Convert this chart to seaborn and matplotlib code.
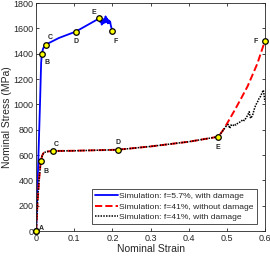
import numpy as np
import pandas as pd
import seaborn as sns
import matplotlib
matplotlib.use("Agg")
import matplotlib.pyplot as plt

# Simulation f=5.7%, with damage
strain_f57 = [0.0, 0.005, 0.010, 0.013, 0.015, 0.018, 0.022, 0.025, 0.060, 0.104,
              0.166, 0.168, 0.170, 0.172, 0.174, 0.176, 0.178, 0.180, 0.182, 0.184,
              0.186, 0.188, 0.190, 0.192, 0.194, 0.196, 0.198, 0.200]
stress_f57 = [0, 500, 1000, 1330, 1400, 1440, 1462, 1472, 1525, 1575,
              1680, 1650, 1668, 1630, 1662, 1640, 1675, 1645, 1695, 1650,
              1678, 1640, 1665, 1642, 1655, 1620, 1600, 1577]

# Simulation f=41%, shared part up to point E
strain_f41 = [0.0, 0.004, 0.008, 0.012, 0.016, 0.020, 0.026, 0.032, 0.043, 0.10,
              0.214, 0.30, 0.40, 0.478]
stress_f41 = [0, 250, 420, 550, 598, 618, 626, 629, 632, 634,
              642, 668, 705, 745]

# after E: without damage
strain_nodmg = [0.478, 0.49, 0.50, 0.52, 0.54, 0.555, 0.58, 0.60]
stress_nodmg = [745, 795, 845, 950, 1060, 1145, 1320, 1500]

# after E: with damage
strain_dmg = [0.478, 0.488, 0.497, 0.504, 0.508, 0.511, 0.516, 0.520, 0.524, 0.530,
              0.537, 0.542, 0.546, 0.550, 0.555, 0.559, 0.561, 0.563, 0.568, 0.572,
              0.576, 0.580, 0.585, 0.588, 0.592, 0.596, 0.598, 0.600]
stress_dmg = [745, 785, 823, 842, 811, 837, 830, 845, 837, 855,
              863, 880, 872, 890, 915, 942, 905, 890, 916, 960,
              995, 1015, 1048, 1060, 1087, 1113, 1074, 1021]

# labelled points
pts_f57_x = [0.0, 0.015, 0.025, 0.104, 0.166, 0.200]
pts_f57_y = [0, 1400, 1472, 1575, 1680, 1577]
pts_f41_x = [0.0, 0.012, 0.043, 0.214, 0.478, 0.600]
pts_f41_y = [0, 550, 632, 642, 745, 1500]
pt_letters = ["A", "B", "C", "D", "E", "F"]

sns.set_style("ticks")
plt.rcParams['font.family'] = ['Liberation Sans', 'DejaVu Sans']

fig = plt.figure(figsize=(2.7, 2.57), dpi=100)
ax = fig.add_axes([0.134, 0.101, 0.847, 0.887])

f41_full = pd.DataFrame({
    "strain": strain_f41 + strain_nodmg[1:],
    "stress": stress_f41 + stress_nodmg[1:],
})
f41_dmg = pd.DataFrame({
    "strain": strain_f41 + strain_dmg[1:],
    "stress": stress_f41 + stress_dmg[1:],
})
f57 = pd.DataFrame({"strain": strain_f57, "stress": stress_f57})

sns.lineplot(data=f57, x="strain", y="stress", sort=False, color="#0000ff", lw=1.3,
             label="Simulation: f=5.7%, with damage", ax=ax)
sns.lineplot(data=f41_full, x="strain", y="stress", sort=False, color="#ff0000", lw=1.4,
             linestyle="--", label="Simulation: f=41%, without damage", ax=ax)
sns.lineplot(data=f41_dmg, x="strain", y="stress", sort=False, color="black", lw=1.1,
             linestyle=(0, (1, 0.8)), label="Simulation: f=41%, with damage", ax=ax)

pts = pd.DataFrame({"x": pts_f57_x + pts_f41_x, "y": pts_f57_y + pts_f41_y})
sns.scatterplot(data=pts, x="x", y="y", color="yellow", edgecolor="black", s=16,
                linewidth=0.9, zorder=5, ax=ax, legend=False, clip_on=False)

# letter offsets (points); A is shared, so only label it once
off_f57 = [(4, 2), (4, -6), (3, 5), (0, -7), (-4, 4), (2, -7)]
off_f41 = [None, (4, -7), (3, 5), (0, 5), (0, -8), (-7, 0)]
for xs, ys, offs in [(pts_f57_x, pts_f57_y, off_f57), (pts_f41_x, pts_f41_y, off_f41)]:
    for xv, yv, lab, off in zip(xs, ys, pt_letters, offs):
        if off is None:
            continue
        ax.annotate(lab, (xv, yv), xytext=off, textcoords="offset points",
                    fontsize=5, fontweight="bold", ha="center", va="center")

ax.set_xlim(0, 0.6)
ax.set_ylim(0, 1800)
ax.set_xticks(np.arange(0, 0.61, 0.1))
ax.set_xticklabels(["0", "0.1", "0.2", "0.3", "0.4", "0.5", "0.6"])
ax.set_yticks(np.arange(0, 1801, 200))
ax.tick_params(direction="in", top=True, right=True, labelsize=6.5, length=2.5, width=0.6, pad=2)
for sp in ax.spines.values():
    sp.set_linewidth(0.6)
ax.set_xlabel("Nominal Strain", fontsize=7.5, labelpad=1)
ax.set_ylabel("Nominal Stress (MPa)", fontsize=7.5, labelpad=1)

leg = ax.legend(loc="lower right", bbox_to_anchor=(0.965, 0.03), fontsize=6.1,
                frameon=True, fancybox=False, edgecolor="black", handlelength=2.7,
                handletextpad=0.15, borderpad=0.35, labelspacing=0.3, borderaxespad=0)
leg.get_frame().set_linewidth(0.6)

fig.savefig("out.png", dpi=100)
